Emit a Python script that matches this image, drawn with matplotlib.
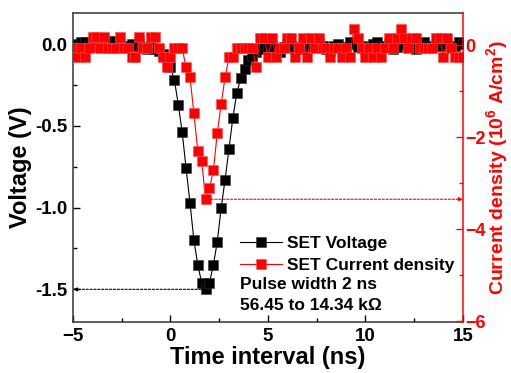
import numpy as np
import matplotlib
matplotlib.use('Agg')
import matplotlib.pyplot as plt
from matplotlib.ticker import MultipleLocator

plt.rcParams['font.family'] = 'Liberation Sans'
plt.rcParams['font.weight'] = 'bold'
plt.rcParams['axes.labelweight'] = 'bold'
plt.rcParams['mathtext.fontset'] = 'custom'
plt.rcParams['mathtext.rm'] = 'Liberation Sans:bold'
plt.rcParams['mathtext.it'] = 'Liberation Sans:bold'
plt.rcParams['mathtext.bf'] = 'Liberation Sans:bold'

# sampling grid, 0.2 ns step
time_ns = np.round(np.arange(101) * 0.2 - 5, 1)

voltage = [
    0.00, -0.02, 0.01, 0.01, -0.01, 0.00, -0.02, 0.01, 0.00, 0.02,
    0.01, 0.02, 0.00, -0.01, -0.02, 0.00, -0.01, 0.01, -0.02, -0.03,
    -0.02, -0.03, -0.04, -0.06, -0.09, -0.14, -0.22, -0.37, -0.54, -0.76,
    -0.97, -1.20, -1.35, -1.46, -1.50, -1.46, -1.35, -1.21, -1.00, -0.83,
    -0.64, -0.45, -0.30, -0.21, -0.15, -0.10, -0.07, -0.05, -0.03, 0.00,
    -0.02, -0.01, -0.03, -0.05, -0.02, 0.00, -0.01, -0.03, -0.02, -0.03,
    0.00, -0.01, -0.02, 0.01, -0.01, -0.03, -0.04, -0.01, 0.00, -0.02,
    -0.03, 0.01, 0.00, -0.02, -0.01, -0.03, -0.02, 0.00, 0.01, -0.01,
    -0.02, 0.00, -0.03, -0.02, 0.01, 0.00, -0.02, -0.01, -0.03, 0.00,
    0.01, -0.01, -0.02, 0.00, -0.01, 0.01, 0.00, -0.02, -0.01, 0.01,
    0.00,
]

current = [
    -0.05, -0.26, -0.05, -0.26, -0.05, 0.17, 0.17, -0.05, 0.17, -0.05,
    -0.05, -0.05, 0.17, -0.05, -0.05, -0.26, -0.26, 0.17, -0.05, -0.05,
    0.17, 0.17, -0.05, -0.26, -0.48, -0.26, -0.07, -0.07, -0.07, -0.48,
    -0.70, -1.48, -2.30, -2.52, -3.35, -3.11, -2.72, -1.91, -1.28, -0.70,
    -0.26, -0.26, -0.07, -0.07, -0.07, -0.07, -0.07, -0.48, 0.15, 0.15,
    -0.26, 0.15, -0.26, -0.07, -0.07, 0.15, 0.15, -0.26, -0.07, 0.15,
    -0.26, 0.15, -0.07, 0.15, -0.07, -0.07, -0.26, -0.07, -0.07, -0.26,
    -0.07, -0.26, 0.35, 0.15, -0.07, -0.26, -0.07, -0.26, -0.07, -0.26,
    -0.07, 0.15, -0.07, 0.15, 0.35, 0.15, -0.07, 0.15, 0.15, -0.07,
    -0.07, -0.07, -0.07, 0.15, 0.15, -0.26, 0.15, -0.07, -0.26, -0.26,
    -0.26,
]

fig = plt.figure(figsize=(5.11, 3.73), dpi=100)
ax = fig.add_axes([0.1429, 0.1367, 0.763, 0.8284])
ax2 = ax.twinx()

l1, = ax.plot(time_ns, voltage, '-s', color='black', lw=0.8, ms=7,
              mec='#333333', mew=0.4, label='SET Voltage')
l2, = ax2.plot(time_ns, current, '-s', color='red', lw=0.8, ms=7,
               mec='#ff5050', mew=0.4, label='SET Current density')

ax.set_xlim(-5, 15)
ax.set_ylim(-1.70, 0.19)
ax2.set_ylim(-6.02, 0.70)

ax.xaxis.set_major_locator(MultipleLocator(5))
ax.xaxis.set_minor_locator(MultipleLocator(2.5))
ax.yaxis.set_major_locator(MultipleLocator(0.5))
ax.yaxis.set_minor_locator(MultipleLocator(0.25))
ax.yaxis.set_major_formatter(matplotlib.ticker.FormatStrFormatter('%.1f'))
ax2.yaxis.set_major_locator(MultipleLocator(2))
ax2.yaxis.set_minor_locator(MultipleLocator(1))

ax.tick_params(which='major', direction='in', length=5, width=1, labelsize=13.5, pad=4)
ax.tick_params(which='minor', direction='in', length=3, width=1)
ax.tick_params(top=False, right=False, which='both')
ax2.tick_params(which='major', direction='in', length=5, width=1, labelsize=13,
                colors='red', pad=1.5)
ax2.tick_params(which='minor', direction='in', length=3, width=1, colors='red')

for s in ['left', 'bottom', 'top']:
    ax.spines[s].set_color('#333333')
    ax.spines[s].set_linewidth(1.1)
    ax2.spines[s].set_visible(False)
ax.spines['right'].set_visible(False)
ax2.spines['right'].set_color('red')
ax2.spines['right'].set_linewidth(1.1)

ax.set_xlabel('Time interval (ns)', fontsize=17, labelpad=1)
ax.set_ylabel('Voltage (V)', fontsize=17, labelpad=2)
# right-hand label pinned to the figure edge so it fits beside the tick labels
fig.text(0.999, 0.55, 'Current density (10$^6$ A/cm$^2$)', fontsize=14,
         color='red', rotation=90, ha='right', va='center')

# dotted guides from the two minima to their axes
i_v = int(np.argmin(voltage))
i_j = int(np.argmin(current))
ax.annotate('', xy=(-5, voltage[i_v]), xytext=(time_ns[i_v] - 0.23, voltage[i_v]),
            arrowprops=dict(arrowstyle='-|>', ls=(0, (2, 1.5)), lw=0.8, color='black',
                            mutation_scale=6, shrinkA=0, shrinkB=0))
ax2.annotate('', xy=(15, current[i_j]), xytext=(time_ns[i_j] + 0.28, current[i_j]),
             arrowprops=dict(arrowstyle='-|>', ls=(0, (2, 1.5)), lw=0.8, color='red',
                             mutation_scale=6, shrinkA=0, shrinkB=0))

ax2.legend(handles=[l1, l2], loc='upper left', bbox_to_anchor=(0.428, 0.28),
           frameon=False, fontsize=12.5, handlelength=2.4, handletextpad=0.3,
           labelspacing=0.42, borderpad=0, borderaxespad=0)
ax2.text(0.428, 0.123, 'Pulse width 2 ns', transform=ax.transAxes,
         fontsize=12.5, va='center', ha='left')
ax2.text(0.428, 0.052, '56.45 to 14.34 k\u03a9', transform=ax.transAxes,
         fontsize=12.5, va='center', ha='left')

fig.savefig('out.png', dpi=100)
